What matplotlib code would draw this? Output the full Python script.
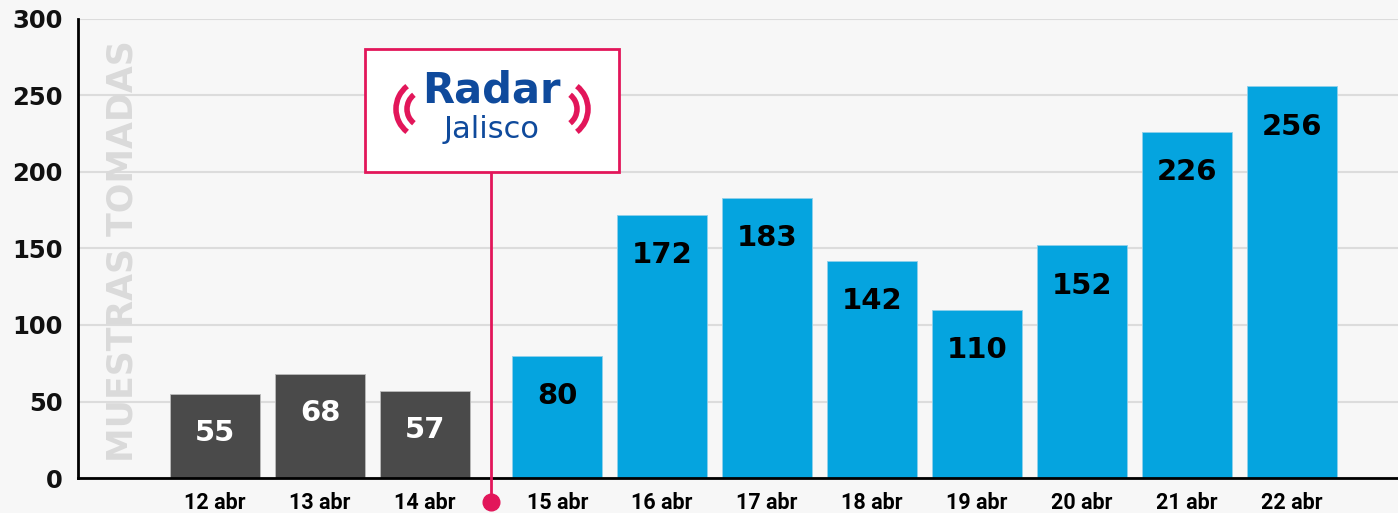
import numpy as np
import matplotlib.pyplot as plt
from matplotlib.patches import Rectangle, Arc

# datos
dias_antes = ['12 abr', '13 abr', '14 abr']
muestras_antes = [55, 68, 57]
dias_despues = ['15 abr', '16 abr', '17 abr', '18 abr', '19 abr', '20 abr', '21 abr', '22 abr']
muestras_despues = [80, 172, 183, 142, 110, 152, 226, 256]
yticks = [0, 50, 100, 150, 200, 250, 300]

gris = '#4a4a4a'
azul = '#05a4df'
rojo = '#e2165a'
azul_logo = '#0f4a9c'
fondo = '#f7f7f7'

fig = plt.figure(figsize=(13.98, 5.13), dpi=100, facecolor=fondo)
ax = fig.add_axes([78 / 1398, 35 / 513, 1 - 78 / 1398, 459 / 513])
ax.set_facecolor(fondo)

# posiciones: hueco extra entre 14 y 15 abr
salto = 0.26
x_antes = np.arange(len(dias_antes))
x_despues = np.arange(len(dias_despues)) + len(dias_antes) + salto
ancho = 90 / 105

b1 = ax.bar(x_antes, muestras_antes, width=ancho, color=gris, edgecolor='#bbbbbb', linewidth=0.6, zorder=3)
b2 = ax.bar(x_despues, muestras_despues, width=ancho, color=azul, edgecolor='#8fd0ea', linewidth=0.6, zorder=3)

for rect, v in zip(b1, muestras_antes):
    ax.annotate(str(v), (rect.get_x() + rect.get_width() / 2, v), xytext=(0, -28),
                textcoords='offset points', ha='center', va='center',
                fontsize=21, fontweight='bold', color='white', zorder=4)
for rect, v in zip(b2, muestras_despues):
    ax.annotate(str(v), (rect.get_x() + rect.get_width() / 2, v), xytext=(0, -29),
                textcoords='offset points', ha='center', va='center',
                fontsize=21, fontweight='bold', color='black', zorder=4)

ax.set_xlim(-1.305, x_despues[-1] + 1.01)
ax.set_ylim(0, 300)
ax.set_yticks(yticks)
ax.set_yticklabels([str(t) for t in yticks], fontsize=17.5, fontweight='bold', color='#111111')
ax.set_xticks(list(x_antes) + list(x_despues))
ax.set_xticklabels(dias_antes + dias_despues, fontsize=15.5, fontweight='bold',
                   family=['Liberation Sans Narrow', 'Roboto', 'DejaVu Sans'])
ax.tick_params(axis='y', length=0, pad=11)
ax.tick_params(axis='x', length=0, pad=10)
ax.grid(axis='y', color='#dcdcdc', linewidth=1.5, zorder=0)
for s in ['top', 'right']:
    ax.spines[s].set_visible(False)
ax.spines['left'].set_linewidth(2)
ax.spines['bottom'].set_linewidth(2)
ax.spines['left'].set_zorder(5)
ax.spines['bottom'].set_zorder(5)

ax.text(-0.88, 148, 'MUESTRAS TOMADAS', rotation=90, ha='center', va='center',
        fontsize=25, fontweight='bold', color='#dadada', zorder=2)

# marcador Radar Jalisco
xm = (x_antes[-1] + x_despues[0]) / 2
ax.plot([xm, xm], [200, -15.5], color=rojo, linewidth=2, clip_on=False, zorder=6)
ax.plot([xm], [-15.5], 'o', color=rojo, markersize=12, clip_on=False, zorder=6)
ax.add_patch(Rectangle((xm - 1.2, 200), 2.42, 80.5, facecolor='white', edgecolor=rojo,
                       linewidth=2, zorder=6, clip_on=False))
ax.text(xm, 253, 'Radar', ha='center', va='center', fontsize=30, fontweight='bold',
        color=azul_logo, zorder=7)
ax.text(xm, 228, 'Jalisco', ha='center', va='center', fontsize=22,
        color=azul_logo, zorder=7)

# ondas del logo (coordenadas en pixeles)
px = fig.dpi_scale_trans
for cx, th1, th2 in [(425, 128, 232), (559, -52, 52)]:
    for r in (29, 18):
        ax.add_artist(Arc((cx / 100, (513 - 109) / 100), 2 * r / 100, 2 * r / 100,
                          theta1=th1, theta2=th2, color=rojo, linewidth=4,
                          transform=px, zorder=7))

fig.savefig('out.png', dpi=100, facecolor=fondo)
